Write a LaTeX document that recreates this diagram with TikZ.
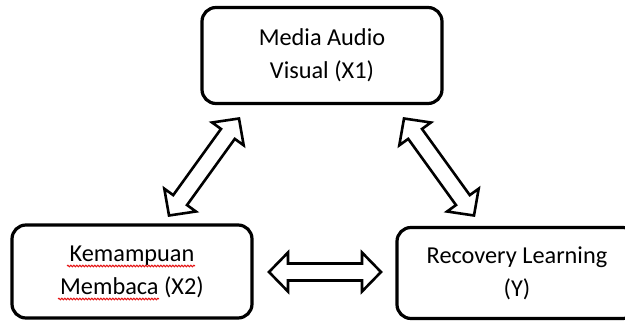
\documentclass[tikz,border=0pt]{standalone}
\usepackage{fontspec}
\setmainfont{Carlito}
\usetikzlibrary{calc,decorations.pathmorphing}
\definecolor{spellred}{RGB}{230,20,20}
\newcommand{\fatdblarrow}[2]{%
  \draw[fatarrow] let \p1=($(#2)-(#1)$), \n1={atan2(\y1,\x1)}, \n2={\n1+90} in
    (#1) -- ($(#1)+(\n1:19pt)+(\n2:19.5pt)$) -- ($(#1)+(\n1:19pt)+(\n2:8.5pt)$)
    -- ($(#2)+(\n1:-19pt)+(\n2:8.5pt)$) -- ($(#2)+(\n1:-19pt)+(\n2:19.5pt)$) -- (#2)
    -- ($(#2)+(\n1:-19pt)+(\n2:-19.5pt)$) -- ($(#2)+(\n1:-19pt)+(\n2:-8.5pt)$)
    -- ($(#1)+(\n1:19pt)+(\n2:-8.5pt)$) -- ($(#1)+(\n1:19pt)+(\n2:-19.5pt)$) -- cycle;}
\begin{document}
\begin{tikzpicture}[x=1pt,y=1pt,
  box/.style={draw, line width=3.2pt, rounded corners=14pt, minimum width=240pt,
    align=center, inner sep=0pt, font=\fontsize{24.3}{33}\selectfont},
  fatarrow/.style={draw, line width=2.6pt, line join=miter, fill=white},
  squiggle/.style={draw=spellred, line width=1pt, decorate,
    decoration={snake, amplitude=0.8pt, segment length=3pt}}]
\clip (0,0) rectangle (625,321);
\fill[white] (0,0) rectangle (625,321);
\node[box, minimum height=96pt] (x1) at (322,265.5) {Media Audio\\Visual (X1)};
\node[box, minimum height=93pt] (x2) at (132,49.5) {Kemampuan\\Membaca (X2)};
\node[box, minimum height=91pt] (y) at (517,48) {Recovery Learning\\(Y)};
\draw[squiggle] (67,55) -- (195,55);
\draw[squiggle] (58,22) -- (159,22);
\coordinate (l1) at (169,105.5);
\coordinate (l2) at (239,202.5);
\coordinate (r1) at (404,202.5);
\coordinate (r2) at (474,105.5);
\coordinate (h1) at (269,49);
\coordinate (h2) at (381,49);
\fatdblarrow{l1}{l2}
\fatdblarrow{r1}{r2}
\fatdblarrow{h1}{h2}
\end{tikzpicture}
\end{document}
